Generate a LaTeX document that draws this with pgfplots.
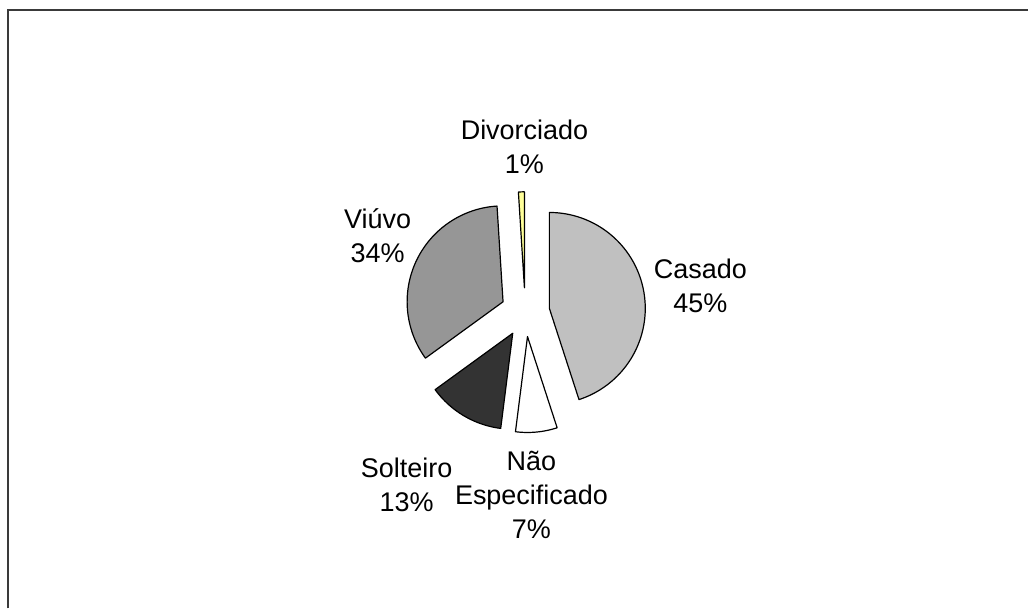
\documentclass[border=0pt]{standalone}
\usepackage{pgfplots}
\pgfplotsset{compat=1.18}
\usepackage{fontspec}
\setmainfont{Liberation Sans}
\definecolor{cCasado}{HTML}{C0C0C0}
\definecolor{cNao}{HTML}{FFFFFF}
\definecolor{cSolteiro}{HTML}{333333}
\definecolor{cViuvo}{HTML}{969696}
\definecolor{cDivorciado}{HTML}{FFFF99}
\definecolor{frame}{HTML}{3A3A3A}
% pie centre (image pixel coordinates), radius and explode distance
\def\cx{525.7}\def\cy{312.5}\def\R{96}\def\dd{24.5}
% \slice{cumulative start %}{share %}{colour}
\newcommand\slice[3]{%
  \pgfmathsetmacro\aA{90-3.6*#1}%
  \pgfmathsetmacro\aB{90-3.6*(#1+#2)}%
  \pgfmathsetmacro\aM{(\aA+\aB)/2}%
  \pgfmathsetmacro\ox{\cx+\dd*cos(\aM)}%
  \pgfmathsetmacro\oy{\cy-\dd*sin(\aM)}%
  \edef\temp{\noexpand\addplot[fill=#3, draw=black, line width=0.6pt, line join=round,
    domain=\aB:\aA, samples=90, variable=\noexpand\t]
    ({\ox+\R*cos(\noexpand\t)},{\oy-\R*sin(\noexpand\t)}) -- (axis cs:\ox,\oy) -- cycle;}%
  \temp}
\tikzset{lbl/.style={font=\fontsize{13.5}{17}\selectfont, align=center, text=black, inner sep=0pt}}
\begin{document}
\begin{tikzpicture}
\begin{axis}[
  width=514.5pt, height=304.5pt, scale only axis,
  xmin=0, xmax=1029, ymin=0, ymax=609, y dir=reverse,
  hide axis, clip=false,
]
% data: cumulative start, share (%)
\slice{0}{45}{cCasado}
\slice{45}{7}{cNao}
\slice{52}{13}{cSolteiro}
\slice{65}{34}{cViuvo}
\slice{99}{1}{cDivorciado}
\draw[frame, line width=1pt] (axis cs:8,609) -- (axis cs:8,10) -- (axis cs:1029,10);
\node[lbl] at (axis cs:525,147) {Divorciado\\1\%};
\node[lbl] at (axis cs:378,236) {Viúvo\\34\%};
\node[lbl] at (axis cs:701,286) {Casado\\45\%};
\node[lbl] at (axis cs:407,485) {Solteiro\\13\%};
\node[lbl] at (axis cs:532,495) {Não\\Especificado\\7\%};
\end{axis}
\path (current axis.south west) rectangle (current axis.north east);
\end{tikzpicture}
\end{document}
